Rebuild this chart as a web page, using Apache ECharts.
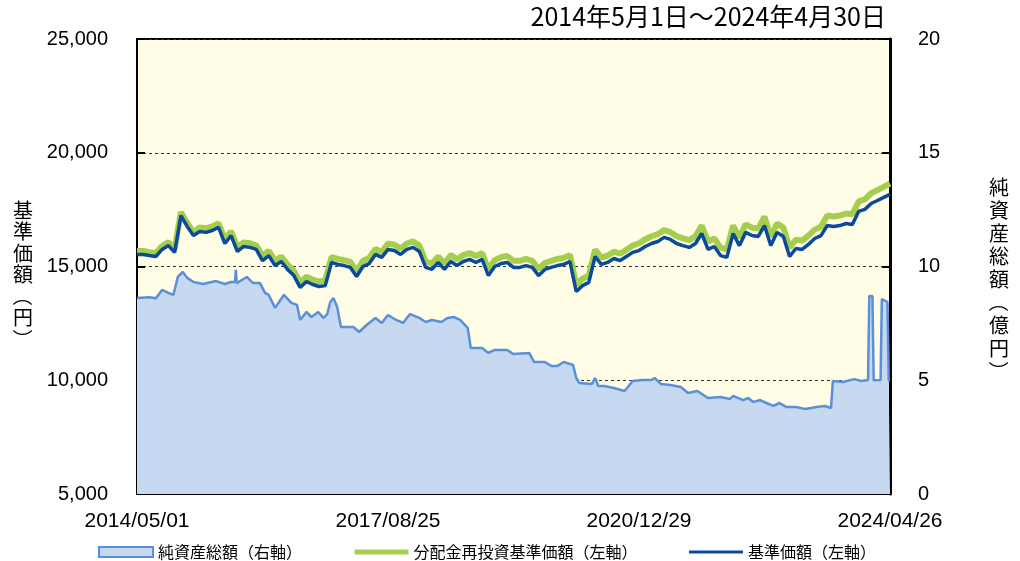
<!DOCTYPE html>
<html>
<head>
<meta charset="utf-8">
<script src="https://cdn.jsdelivr.net/npm/echarts@6/dist/echarts.min.js"></script>
<style>
	html, body { margin: 0; padding: 0; background: #fff; }
	#chart { width: 1020px; height: 561px; }
</style>
</head>
<body>
<div id="chart"></div>
<script>
'use strict';

/* x軸の目盛ラベル（0, 40, 80, 120 ヶ月目） */
var xTickLabels = ['2014/05/01', '2017/08/25', '2020/12/29', '2024/04/26'];

/* 基準価額（円）、月次 */
var navPrice = [
	15530, 15530, 15480, 15440, 15750, 15920, 15620, 17240, 16760, 16360,
	16540, 16500, 16580, 16720, 16010, 16360, 15660, 15880, 15840, 15750,
	15260, 15480, 15040, 15220, 14870, 14600, 14080, 14340, 14210, 14120,
	14160, 15180, 15090, 15040, 14960, 14560, 15000, 15130, 15530, 15400,
	15750, 15700, 15530, 15750, 15840, 15660, 14960, 14870, 15180, 14870,
	15220, 15040, 15220, 15310, 15180, 15310, 14600, 15000, 15130, 15180,
	14960, 14960, 15040, 14960, 14600, 14870, 14960, 15040, 15090, 15220,
	13900, 14160, 14300, 15440, 15090, 15180, 15350, 15260, 15440, 15620,
	15700, 15880, 16010, 16100, 16280, 16190, 16010, 15920, 15840, 16010,
	16450, 15750, 15880, 15480, 15400, 16450, 15920, 16500, 16360, 16320,
	16800, 15920, 16500, 16320, 15440, 15790, 15750, 15970, 16230, 16360,
	16800, 16760, 16800, 16890, 16850, 17420, 17510, 17770, 17900, 18040,
	18170
];

/* 分配金再投資基準価額（円）、月次 */
var reinvPrice = [
	15680, 15680, 15630, 15590, 15900, 16070, 15770, 17390, 16910, 16510,
	16720, 16680, 16760, 16900, 16190, 16540, 15840, 16060, 16020, 15930,
	15470, 15690, 15250, 15430, 15080, 14810, 14290, 14550, 14420, 14330,
	14400, 15420, 15330, 15280, 15200, 14800, 15240, 15370, 15770, 15640,
	16010, 15960, 15790, 16010, 16100, 15920, 15220, 15130, 15440, 15130,
	15500, 15320, 15500, 15590, 15460, 15590, 14880, 15280, 15410, 15460,
	15250, 15250, 15330, 15250, 14890, 15160, 15250, 15330, 15380, 15510,
	14200, 14460, 14600, 15740, 15390, 15480, 15650, 15560, 15740, 15920,
	16020, 16200, 16330, 16420, 16600, 16510, 16330, 16240, 16160, 16330,
	16800, 16100, 16230, 15830, 15750, 16800, 16270, 16850, 16710, 16670,
	17190, 16310, 16890, 16710, 15830, 16180, 16140, 16360, 16620, 16750,
	17240, 17200, 17240, 17330, 17290, 17860, 17950, 18220, 18360, 18500,
	18640
];

/* 純資産総額（億円）、[月, 値] */
var totalAssets = [
	[0, 8.62], [2, 8.65], [3, 8.6], [4, 8.97], [5, 8.84], [5.8, 8.75], [6.5, 9.54], [7.3, 9.76],
	[8, 9.5], [9, 9.32], [10.5, 9.23], [12.6, 9.36], [14, 9.23], [15, 9.32], [15.6, 9.32],
	[15.75, 9.85], [15.9, 9.27], [17.5, 9.54], [18.5, 9.27], [19.6, 9.27], [20.4, 8.84],
	[21, 8.75], [22, 8.18], [23.4, 8.75], [24.6, 8.4], [25.5, 8.31], [26, 7.65], [27, 8.0],
	[27.8, 7.78], [28.9, 8.0], [29.7, 7.74], [30.3, 7.9], [30.8, 8.44], [31.3, 8.62],
	[31.9, 8.22], [32.5, 7.34], [33.5, 7.34], [34.5, 7.34], [35.4, 7.12], [36.6, 7.43],
	[38, 7.74], [39, 7.52], [40, 7.87], [41.3, 7.65], [42.4, 7.52], [43.5, 7.91], [45, 7.74],
	[46, 7.56], [47, 7.65], [48.5, 7.56], [49.5, 7.74], [50.5, 7.78], [51.5, 7.65],
	[52.7, 7.3], [53.2, 6.42], [55, 6.42], [56, 6.2], [57, 6.33], [59, 6.33], [60, 6.15],
	[62.5, 6.2], [63.3, 5.8], [65, 5.8], [66, 5.63], [67, 5.63], [68, 5.8], [69.5, 5.67],
	[70, 5.1], [70.5, 4.88], [72.5, 4.84], [73, 5.1], [73.5, 4.75], [74.5, 4.75], [76, 4.66],
	[77.7, 4.53], [79, 4.97], [80.5, 5.01], [82, 5.01], [82.5, 5.1], [83.5, 4.84], [85, 4.79],
	[86.7, 4.7], [87.8, 4.44], [89.3, 4.53], [91, 4.22], [93, 4.26], [94.5, 4.18], [95, 4.31],
	[96.6, 4.13], [97.4, 4.22], [98.2, 4.04], [99.3, 4.13], [100.3, 4.0], [101.4, 3.87],
	[102.4, 4.0], [103.5, 3.82], [105, 3.82], [106.5, 3.74], [108.3, 3.82], [109.6, 3.87],
	[110.6, 3.78], [110.9, 4.97], [112.5, 4.92], [114.3, 5.05], [115.4, 4.97], [116.5, 5.01],
	[116.7, 8.7], [117.2, 8.7], [117.4, 5.0], [118.5, 5.01], [118.7, 8.57], [119.6, 8.44],
	[119.8, 5.0], [120, 5.0]
];

var legendNames = ['純資産総額（右軸）', '分配金再投資基準価額（左軸）', '基準価額（左軸）'];


(function(){

	var FONT = '"Noto Sans CJK JP", "Noto Sans", sans-serif',
			NUM_FONT = '"Liberation Sans", Arial, sans-serif',
			black = '#000';

	/**
	 * 月次配列を [月, 値] の組に変換
	 * @param {Array} arr
	 * @return {Array}
	 */
	function toPairs(arr){
		return arr.map(function(v, i){ return [i, v]; });
	}

	/**
	 * 3桁区切り
	 * @param {Number} v
	 */
	function comma(v){
		return String(v).replace(/\B(?=(\d{3})+(?!\d))/g, ',');
	}

	/**
	 * 縦書きテキスト（括弧は回転させる）
	 * @param {String} str
	 * @param {Number} cx 中心x
	 * @param {Number} cy 先頭文字の中心y
	 * @param {Number} step 行送り
	 * @return {Array} graphic要素
	 */
	function verticalText(str, cx, cy, step){
		return str.split('').map(function(ch, i){
			var paren = ch === '（' || ch === '）';
			return {
				type: 'text',
				x: cx, y: cy + i * step,
				rotation: paren ? -Math.PI / 2 : 0,
				style: { text: ch, font: '20px ' + FONT, fill: black, align: 'center', verticalAlign: 'middle' },
			};
		});
	}

	var graphic = [
		{
			type: 'text', right: 134, top: 4,
			style: { text: '2014年5月1日～2024年4月30日', font: '25px ' + FONT, fill: black },
		},
	].concat(verticalText('基準価額（円）', 23, 210, 21.5), verticalText('純資産総額（億円）', 999, 187, 23));

	var lineLegend = function(name, width){
		return { name: name, itemStyle: { opacity: 0 }, lineStyle: { width: width } };
	};

	var option = {
		animation: false,
		textStyle: { fontFamily: FONT },
		grid: {
			left: 137, right: 130, top: 39, bottom: 67,
			show: true,
			backgroundColor: '#FFFDE6',
			borderColor: black,
			borderWidth: 2,
		},
		graphic: graphic,
		legend: {
			left: 93, top: 539,
			itemWidth: 54, itemHeight: 10, itemGap: 50,
			textStyle: { fontFamily: FONT, fontSize: 16, color: black },
			data: [
				{ name: legendNames[0], icon: 'rect' },
				lineLegend(legendNames[1], 5),
				lineLegend(legendNames[2], 3),
			],
		},
		xAxis: {
			type: 'value', min: 0, max: 120, interval: 40,
			axisLine: { lineStyle: { color: black, width: 2 } },
			axisTick: { show: false },
			splitLine: { show: false },
			axisLabel: {
				margin: 17, color: black, fontSize: 21, fontFamily: NUM_FONT,
				formatter: function(v){ return xTickLabels[Math.round(v / 40)] || ''; },
			},
		},
		yAxis: [
			{
				type: 'value', min: 5000, max: 25000, interval: 5000,
				axisLine: { show: true, lineStyle: { color: black, width: 2 } },
				axisTick: { show: true, inside: true, length: 8, lineStyle: { color: black, width: 2 } },
				splitLine: { show: true, lineStyle: { color: '#333', type: [3, 3], width: 1 } },
				axisLabel: { margin: 29, color: black, fontSize: 20, fontFamily: NUM_FONT, formatter: comma },
			},
			{
				type: 'value', min: 0, max: 20, interval: 5,
				axisLine: { show: true, lineStyle: { color: black, width: 3 } },
				axisTick: { show: true, inside: true, length: 8, lineStyle: { color: black, width: 2 } },
				splitLine: { show: false },
				axisLabel: { margin: 28, color: black, fontSize: 20, fontFamily: NUM_FONT },
			},
		],
		series: [
			{
				/* 凡例用のダミー（塗りつぶし矩形のアイコン） */
				name: legendNames[0], type: 'bar', yAxisIndex: 1, data: [],
				itemStyle: { color: '#C6D9F1', borderColor: '#5B8FD8', borderWidth: 2 },
			},
			{
				name: 'nav-area', type: 'line', yAxisIndex: 1,
				data: totalAssets, symbol: 'none', z: 1,
				lineStyle: { color: '#5B8FD8', width: 2.5 },
				itemStyle: { color: '#5B8FD8' },
				areaStyle: { color: '#C6D9F1', opacity: 1 },
			},
			{
				name: legendNames[1], type: 'line', yAxisIndex: 0,
				data: toPairs(reinvPrice), symbol: 'none', z: 2,
				lineStyle: { color: '#A6CE4E', width: 6 },
				itemStyle: { color: '#A6CE4E' },
			},
			{
				name: legendNames[2], type: 'line', yAxisIndex: 0,
				data: toPairs(navPrice), symbol: 'none', z: 3,
				lineStyle: { color: '#0B4A9B', width: 3.5 },
				itemStyle: { color: '#0B4A9B' },
			},
		],
	};

	echarts.init(document.getElementById('chart')).setOption(option);

})();
</script>
</body>
</html>
